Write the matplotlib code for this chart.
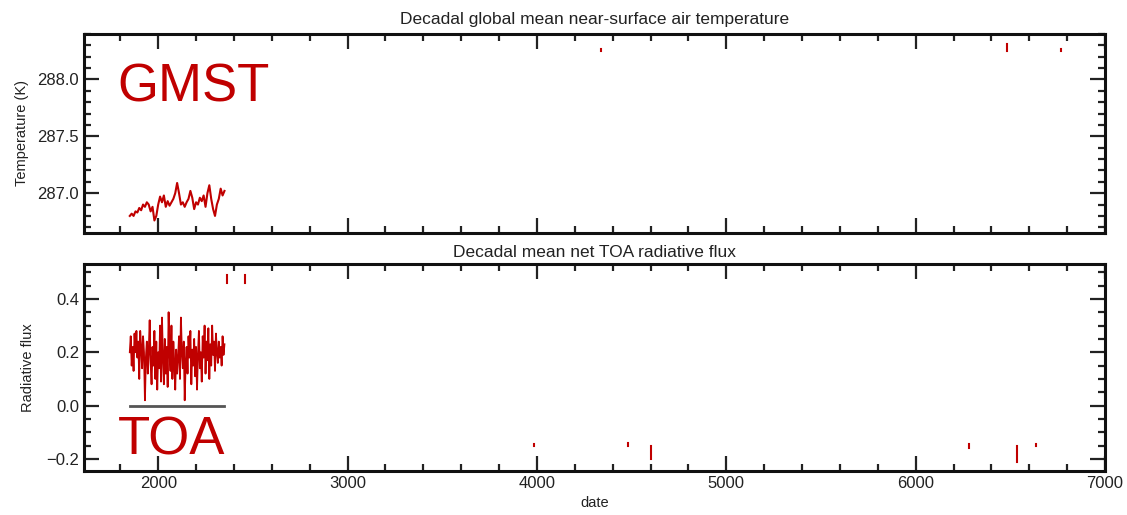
import matplotlib
matplotlib.use("Agg")
import matplotlib.pyplot as plt
from matplotlib.ticker import MultipleLocator
import numpy as np

plt.rcParams['font.family'] = ['Liberation Sans Narrow', 'Liberation Sans', 'DejaVu Sans']

red = "#c00000"
txt = "#222222"

# decadal GMST (K)
gmst_years = list(range(1850, 2351, 10))
gmst = [286.80, 286.82, 286.80, 286.84, 286.83, 286.87, 286.85, 286.90, 286.88, 286.92,
        286.90, 286.84, 286.88, 286.76, 286.80, 286.90, 286.97, 286.92, 286.98, 286.88,
        286.93, 286.89, 286.92, 286.95, 287.00, 287.09, 287.00, 286.90, 286.92, 286.88,
        286.92, 286.95, 287.02, 286.96, 286.86, 286.92, 286.90, 286.96, 286.93, 286.98,
        286.88, 287.00, 287.07, 286.95, 286.86, 286.80, 286.90, 286.95, 287.04, 286.98,
        287.02]

# net TOA radiative flux
toa_years = list(range(1850, 2351, 5))
toa = [0.20, 0.26, 0.15, 0.22, 0.13, 0.27, 0.20, 0.28, 0.18, 0.24,
       0.10, 0.28, 0.22, 0.14, 0.26, 0.20, 0.02, 0.18, 0.24, 0.12,
       0.20, 0.32, 0.16, 0.08, 0.22, 0.15, 0.28, 0.10, 0.24, 0.06,
       0.20, 0.14, 0.30, 0.09, 0.33, 0.18, 0.08, 0.25, 0.12, 0.22,
       0.07, 0.35, 0.20, 0.13, 0.30, 0.10, 0.24, 0.16, 0.06, 0.21,
       0.12, 0.18, 0.26, 0.10, 0.33, 0.20, 0.14, 0.24, 0.02, 0.16,
       0.22, 0.12, 0.26, 0.18, 0.28, 0.08, 0.21, 0.15, 0.25, 0.11,
       0.22, 0.06, 0.19, 0.28, 0.14, 0.20, 0.09, 0.26, 0.18, 0.30,
       0.12, 0.24, 0.17, 0.29, 0.10, 0.23, 0.15, 0.30, 0.19, 0.24,
       0.13, 0.27, 0.20, 0.16, 0.24, 0.18, 0.22, 0.15, 0.26, 0.19,
       0.23]

# leftover fragments of other runs (date, low, high)
gmst_bits = [(4340, 288.25, 288.27), (6480, 288.25, 288.31), (6770, 288.25, 288.27)]
toa_bits = [(2365, 0.46, 0.49), (2460, 0.46, 0.49), (3987, -0.15, -0.145),
            (4480, -0.15, -0.14), (4602, -0.20, -0.15), (6280, -0.16, -0.145),
            (6537, -0.21, -0.15), (6637, -0.15, -0.145)]

fig = plt.figure(figsize=(11.27, 5.15), dpi=100)
ax1 = fig.add_axes([0.0745, 0.5476, 0.906, 0.3864])
ax2 = fig.add_axes([0.0745, 0.0854, 0.906, 0.4016])

ax1.plot(gmst_years, gmst, color=red, lw=1.5)
for d, lo, hi in gmst_bits:
    ax1.plot([d, d], [lo, hi], color=red, lw=1.5)

ax2.plot(toa_years, toa, color=red, lw=1.3)
ax2.plot([toa_years[0], toa_years[-1]], [0, 0], color="#555555", lw=2)
for d, lo, hi in toa_bits:
    ax2.plot([d, d], [lo, hi], color=red, lw=1.5)

ax1.set_xlim(1608, 7000)
ax2.set_xlim(1608, 7000)
ax1.set_ylim(286.65, 288.40)
ax2.set_ylim(-0.245, 0.53)

ax1.yaxis.set_major_locator(MultipleLocator(0.5))
ax1.yaxis.set_minor_locator(MultipleLocator(0.1))
ax2.yaxis.set_major_locator(MultipleLocator(0.2))
ax2.yaxis.set_minor_locator(MultipleLocator(0.05))
for ax in (ax1, ax2):
    ax.xaxis.set_major_locator(MultipleLocator(1000))
    ax.xaxis.set_minor_locator(MultipleLocator(200))
    ax.tick_params(which="both", direction="in", top=True, right=True,
                   width=1.6, colors=txt, labelsize=12)
    ax.tick_params(which="major", length=11)
    ax.tick_params(which="minor", length=5)
    for s in ax.spines.values():
        s.set_linewidth(2.2)
        s.set_color("#111111")
ax1.tick_params(labelbottom=False)
ax2.yaxis.set_major_formatter(plt.FuncFormatter(lambda v, p: ("%.1f" % v).replace("-", "\u2212")))

ax1.set_title("Decadal global mean near-surface air temperature", fontsize=12.5, color=txt, pad=7)
ax2.set_title("Decadal mean net TOA radiative flux", fontsize=12.5, color=txt, pad=5)
ax1.set_ylabel("Temperature (K)", fontsize=10.5, color=txt, labelpad=6)
ax2.set_ylabel("Radiative flux", fontsize=10.5, color=txt, labelpad=8)
ax2.set_xlabel("date", fontsize=10.5, color=txt)

ax1.text(0.033, 0.66, "GMST", transform=ax1.transAxes, fontsize=38, color=red,
         family=['Liberation Sans', 'DejaVu Sans'])
ax2.text(0.033, 0.08, "TOA", transform=ax2.transAxes, fontsize=38, color=red,
         family=['Liberation Sans', 'DejaVu Sans'])

fig.savefig("out.png", dpi=100)
